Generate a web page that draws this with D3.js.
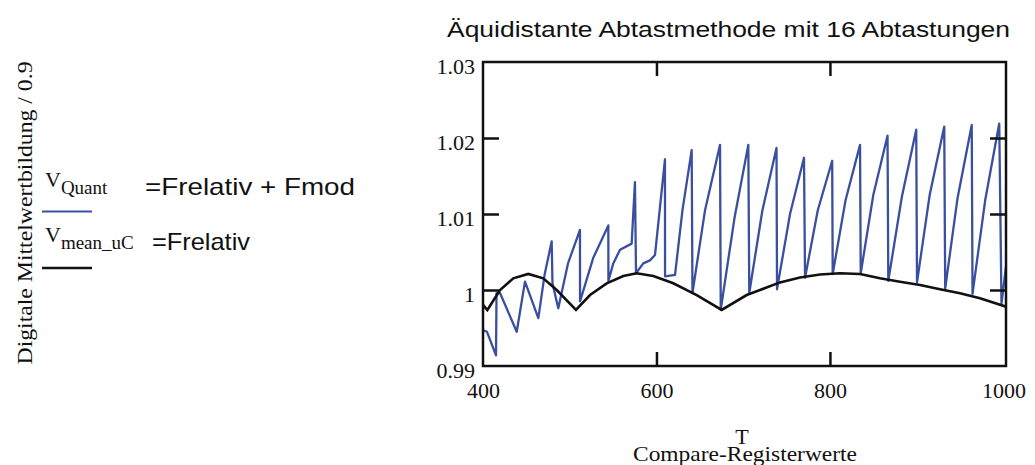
<!DOCTYPE html>
<html>
<head>
<meta charset="utf-8">
<script src="https://cdn.jsdelivr.net/npm/d3@7"></script>
<style>
  html, body { margin: 0; padding: 0; background: #fff; }
  svg { display: block; }
</style>
</head>
<body>
<svg id="chart" width="1035" height="465"></svg>
<script>
// ---- data ----
const xTicks = [400, 600, 800, 1000];
const yTicks = [0.99, 1, 1.01, 1.02, 1.03];
const yTickLabels = ["0.99", "1", "1.01", "1.02", "1.03"];

// V_Quant = Frelativ + Fmod (blue sawtooth)
const quantT = [400.3, 404.6, 415.0, 415.6, 419.6, 438.9, 448.4, 463.8, 471, 479.2, 480.1, 486.8, 498, 511.8, 511.9, 527, 544.5, 544.6,
  550.2, 558.0, 571.4, 575.2, 576.4, 584.8, 592.5, 598.3, 609.8, 609.9, 621.4, 630, 640.6, 641.5, 656, 673.3, 674.1,
  690, 705.9, 707.0, 722, 738.4, 739.0, 754, 770.1, 771.3, 786, 802.6, 803.2, 818, 834.7, 835.5, 850, 866.4, 867.3,
  883, 899.5, 900.4, 915, 931.8, 932.9, 947, 963.5, 964.4, 979, 995.2, 997.8, 1003];
const quantV = [0.9947, 0.9945, 0.9914, 0.9996, 0.9996, 0.9945, 1.0011, 0.9963, 1.0020, 1.0064, 1.0009, 0.9976, 1.0035, 1.0079, 0.9985, 1.0042, 1.0085, 1.0012,
  1.0035, 1.0053, 1.0061, 1.0142, 1.0022, 1.0035, 1.0039, 1.0046, 1.0172, 1.0018, 1.0020, 1.0105, 1.0184, 0.9996, 1.0105, 1.0191, 0.9974,
  1.0095, 1.0191, 0.9996, 1.0104, 1.0187, 1.0001, 1.0100, 1.0174, 1.0016, 1.0105, 1.0170, 1.0021, 1.0118, 1.0191, 1.0022, 1.0125, 1.0203, 1.0012,
  1.0123, 1.0211, 1.0010, 1.0125, 1.0215, 1.0002, 1.0120, 1.0217, 0.9995, 1.0118, 1.0219, 0.9982, 1.0031];

// V_mean_uC = Frelativ (black)
const meanT = [400, 405.0, 419.6, 434.9, 452.2, 469.5, 485.0, 507.2, 523.4, 542.6, 561.8, 577.2, 596.4, 619.4, 646.4, 675.2,
  704.0, 719.4, 742.4, 765.5, 788.6, 811.6, 834.7, 857.7, 880.8, 903.9, 926.9, 950.0, 973.0, 1003];
const meanV = [0.99803, 0.99737, 1.0000, 1.00154, 1.00211, 1.00154, 1.0000, 0.99737, 0.99934, 1.00088, 1.00184, 1.00220, 1.00184, 1.00088, 0.99934, 0.99737,
  0.99934, 1.0000, 1.0010, 1.00165, 1.00204, 1.00220, 1.00211, 1.00154, 1.00109, 1.00066, 1.00009, 0.99956, 0.99890, 0.99780];

// ---- drawing ----
const svg = d3.select("#chart");
const pL = 483, pR = 1006, pT = 62, pB = 366;
const x = d3.scaleLinear().domain([400, 1003]).range([pL, pR]);
const y = d3.scaleLinear().domain([0.99, 1.03]).range([pB, pT]);
const serif = "'Liberation Serif', 'Times New Roman', serif";
const sans = "'Liberation Sans', Arial, sans-serif";
const blue = "#3a4f9f";

// title
svg.append("text").attr("x", 447).attr("y", 37)
  .attr("font-family", sans).attr("font-size", 22).attr("fill", "#111")
  .attr("textLength", 563).attr("lengthAdjust", "spacingAndGlyphs")
  .text("Äquidistante Abtastmethode mit 16 Abtastungen");

// clip
svg.append("defs").append("clipPath").attr("id", "clip")
  .append("rect").attr("x", pL).attr("y", pT).attr("width", pR - pL).attr("height", pB - pT);

const plot = svg.append("g").attr("clip-path", "url(#clip)");
const line = d3.line().x(d => x(d[0])).y(d => y(d[1]));
plot.append("path").datum(quantT.map((t, i) => [t, quantV[i]]))
  .attr("d", line).attr("fill", "none").attr("stroke", blue).attr("stroke-width", 2.3).attr("stroke-linejoin", "round");
plot.append("path").datum(meanT.map((t, i) => [t, meanV[i]]))
  .attr("d", line).attr("fill", "none").attr("stroke", "#111").attr("stroke-width", 2.6);

// axes: labels
const yAx = svg.append("g").attr("transform", `translate(${pL},0)`)
  .call(d3.axisLeft(y).tickValues(yTicks).tickFormat((d, i) => yTickLabels[i]).tickSize(0).tickPadding(8));
const xAx = svg.append("g").attr("transform", `translate(0,${pB})`)
  .call(d3.axisBottom(x).tickValues(xTicks).tickFormat(d3.format("d")).tickSize(0).tickPadding(16));
[yAx, xAx].forEach(g => {
  g.select(".domain").remove();
  g.selectAll("text").attr("font-family", serif).attr("font-size", 22).attr("fill", "#111");
});
yAx.selectAll("text").attr("dy", "0.5em");

// inward ticks on all four sides
const inner = [1, 1.01, 1.02];
const tickStyle = g => { g.select(".domain").remove(); g.selectAll("line").attr("stroke", "#111").attr("stroke-width", 2.5); };
svg.append("g").attr("transform", `translate(${pL},0)`)
  .call(d3.axisRight(y).tickValues(inner).tickSize(16).tickFormat("")).call(tickStyle);
svg.append("g").attr("transform", `translate(${pR},0)`)
  .call(d3.axisLeft(y).tickValues(inner).tickSize(16).tickFormat("")).call(tickStyle);
svg.append("g").attr("transform", `translate(0,${pT})`)
  .call(d3.axisBottom(x).tickValues([600, 800]).tickSize(14).tickFormat("")).call(tickStyle);
svg.append("g").attr("transform", `translate(0,${pB})`)
  .call(d3.axisTop(x).tickValues([600, 800]).tickSize(14).tickFormat("")).call(tickStyle);

// frame
svg.append("rect").attr("x", pL).attr("y", pT).attr("width", pR - pL).attr("height", pB - pT)
  .attr("fill", "none").attr("stroke", "#111").attr("stroke-width", 2.5);

// x label
svg.append("text").attr("x", 742).attr("y", 444).attr("text-anchor", "middle")
  .attr("font-family", serif).attr("font-size", 22).attr("fill", "#111").text("T");
svg.append("text").attr("x", 745).attr("y", 461).attr("text-anchor", "middle")
  .attr("font-family", serif).attr("font-size", 22).attr("fill", "#111")
  .attr("textLength", 224).attr("lengthAdjust", "spacingAndGlyphs").text("Compare-Registerwerte");

// y label
svg.append("text").attr("transform", "translate(32,213) rotate(-90)").attr("text-anchor", "middle")
  .attr("font-family", serif).attr("font-size", 22).attr("fill", "#111")
  .attr("textLength", 303).attr("lengthAdjust", "spacingAndGlyphs")
  .text("Digitale Mittelwertbildung / 0.9");

// legend
function legendName(xp, yb, sub) {
  const t = svg.append("text").attr("x", xp).attr("y", yb).attr("font-family", serif).attr("fill", "#111");
  t.append("tspan").attr("font-size", 22).text("V");
  t.append("tspan").attr("font-size", 19).attr("dy", 7).text(sub);
}
legendName(45, 187, "Quant");
svg.append("text").attr("x", 145).attr("y", 195).attr("font-family", sans).attr("font-size", 24).attr("fill", "#111")
  .attr("textLength", 210).attr("lengthAdjust", "spacingAndGlyphs").text("=Frelativ + Fmod");
svg.append("line").attr("x1", 42).attr("x2", 92).attr("y1", 211.5).attr("y2", 211.5).attr("stroke", blue).attr("stroke-width", 2);
legendName(45, 242, "mean_uC");
svg.append("text").attr("x", 152).attr("y", 250).attr("font-family", sans).attr("font-size", 24).attr("fill", "#111")
  .attr("textLength", 98).attr("lengthAdjust", "spacingAndGlyphs").text("=Frelativ");
svg.append("line").attr("x1", 42).attr("x2", 92).attr("y1", 268).attr("y2", 268).attr("stroke", "#111").attr("stroke-width", 2.5);
</script>
</body>
</html>
